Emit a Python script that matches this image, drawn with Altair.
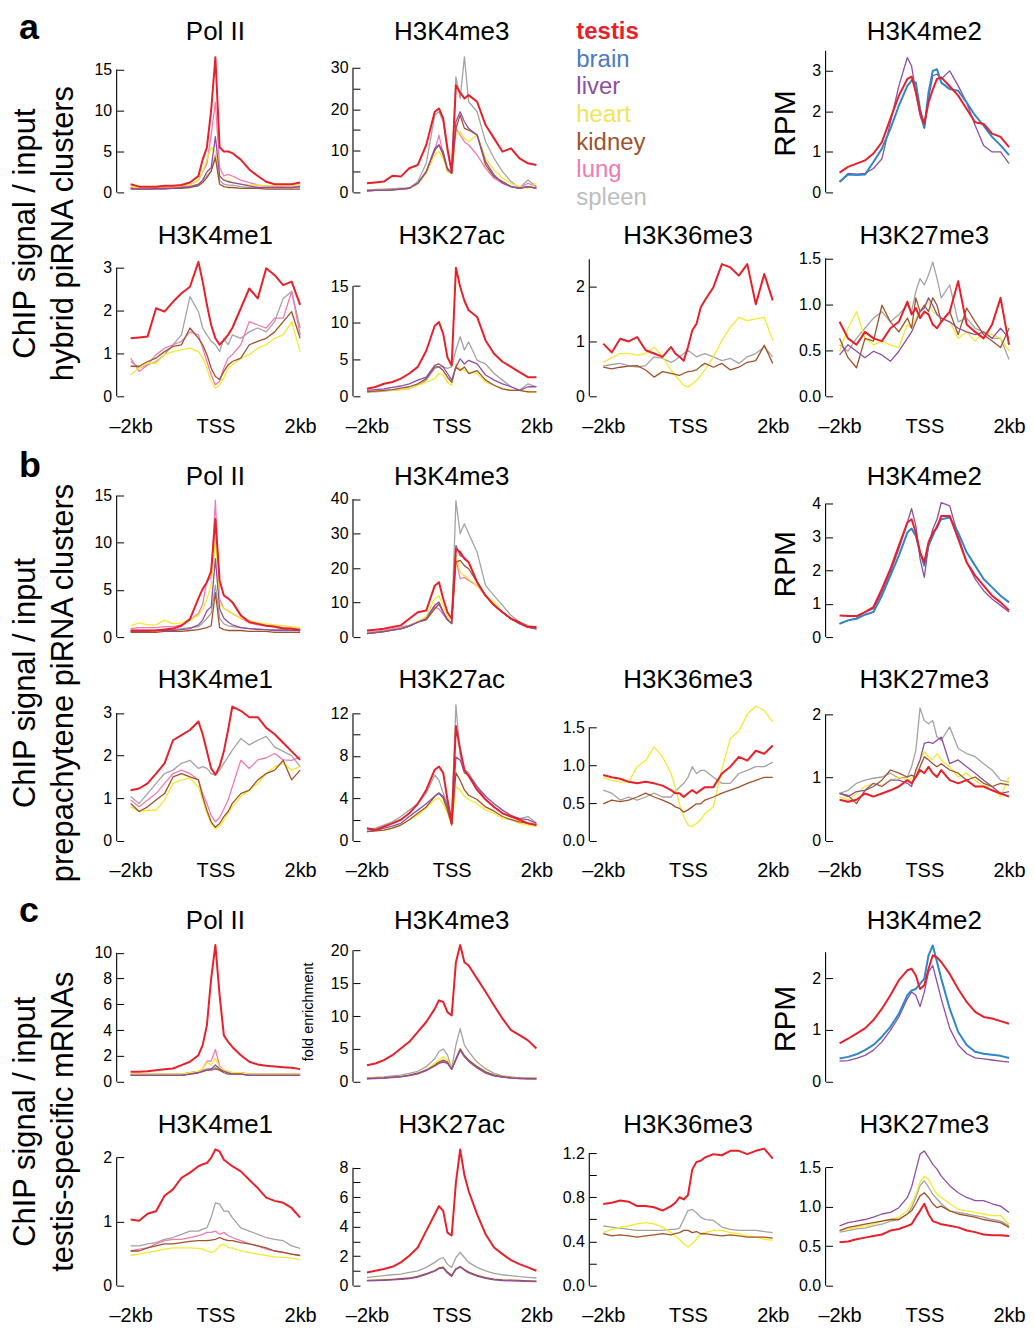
import altair as alt
import pandas as pd

FONT = "Liberation Sans"

# ---------------- shared categories ----------------
POS = [-2000, -1800, -1600, -1400, -1200, -1000, -800, -600, -400, -300, -200, -100,
       0, 100, 200, 300, 400, 600, 800, 1000, 1200, 1400, 1600, 1800, 2000]
X_TICKS = [-2000, 0, 2000]
X_LABELS = ["–2kb", "TSS", "2kb"]
TISSUES = ["testis", "brain", "liver", "heart", "kidney", "lung", "spleen"]
LINE_COLORS = ["#e8202a", "#2f86c9", "#8e4ea4", "#f2ea2e", "#a0522a", "#f27ab2", "#a3a3a3"]
TEXT_COLORS = ["#e8202a", "#4a7cc2", "#8e4ea4", "#eee65a", "#a0522a", "#f27ab2", "#bdbdbd"]
LINE_WIDTHS = [2.0, 2.0, 1.3, 1.3, 1.3, 1.3, 1.3]
DRAW_ORDER = ["spleen", "lung", "heart", "kidney", "liver", "brain", "testis"]
SECTION_LETTERS = ["a", "b", "c"]
SECTION_LINE1 = "ChIP signal / input"
SECTION_LINE2 = ["hybrid piRNA clusters", "prepachytene piRNA clusters", "testis-specific mRNAs"]

# ---------------- section a ----------------
a_pol2_testis = [1.0,0.7,0.7,0.7,0.8, 0.8,0.9,1.2,2.0,4.0, 5.5,10.0,16.5,5.5,5.0, 5.0,4.8,4.0,2.8,2.0, 1.3,1.0,1.0,1.0,1.2]
a_pol2_lung = [0.6,0.5,0.5,0.5,0.6, 0.6,0.7,0.9,1.5,2.5, 3.5,7.0,11.0,3.0,2.0, 2.2,2.0,1.5,1.2,0.9, 0.8,0.7,0.7,0.6,0.8]
a_pol2_heart = [0.7,0.6,0.6,0.6,0.7, 0.7,0.8,0.9,1.5,2.5, 4.0,5.5,5.0,2.0,1.5, 1.5,1.2,1.0,0.9,0.9, 0.8,0.8,0.8,0.8,1.0]
a_pol2_liver = [0.5,0.4,0.4,0.4,0.4, 0.5,0.6,0.7,1.0,1.5, 2.5,3.0,6.8,2.0,1.5, 1.3,1.2,1.0,0.8,0.6, 0.6,0.6,0.6,0.6,0.7]
a_pol2_spleen = [0.5,0.5,0.5,0.5,0.5, 0.5,0.6,0.6,0.9,1.3, 2.0,2.6,4.6,1.5,1.0, 0.9,0.9,0.7,0.6,0.6, 0.6,0.6,0.6,0.6,0.6]
a_pol2_kidney = [0.4,0.4,0.4,0.5,0.5, 0.5,0.5,0.6,0.8,1.2, 1.8,2.6,4.2,1.0,0.7, 0.6,0.6,0.5,0.5,0.5, 0.4,0.4,0.4,0.4,0.4]

a_k4me3_testis = [2.2,2.4,2.6,4.0,3.8, 5.8,6.6,11.4,19.4,20.2, 17.8,10.6,5.0,25.8,24.0, 22.6,23.4,21.8,16.2,13.0, 9.8,10.6,8.2,7.0,6.6]
a_k4me3_spleen = [0.6,0.7,0.8,0.9,1.0, 1.0,2.6,7.0,18.6,19.4, 17.0,9.8,4.6,27.8,22.6, 32.6,21.8,19.4,12.2,8.2, 5.0,2.6,1.0,3.0,1.4]
a_k4me3_liver = [0.4,0.5,0.5,0.6,0.8, 1.0,2.2,5.0,10.6,11.4, 9.8,5.8,4.6,17.0,19.4, 17.0,15.4,13.8,7.4,4.2, 2.2,1.4,1.0,1.4,1.0]
a_k4me3_kidney = [0.4,0.5,0.5,0.6,0.8, 1.0,2.2,5.0,10.2,11.4, 9.0,5.5,4.6,15.4,18.6, 15.4,15.0,13.8,6.6,3.8, 2.6,1.4,1.0,1.4,1.0]
a_k4me3_heart = [0.4,0.5,0.5,0.6,0.8, 1.0,2.0,4.5,9.0,9.8, 8.2,5.0,4.6,13.8,14.6, 13.0,12.2,13.8,8.2,5.4, 3.4,2.2,1.4,1.0,2.2]
a_k4me3_lung = [0.4,0.5,0.5,0.6,0.8, 1.0,2.2,5.0,10.0,13.8, 9.0,5.0,4.6,15.4,13.8, 12.2,11.4,9.0,5.8,3.4, 2.2,1.4,1.0,2.2,1.4]

a_k4me2_testis = [0.49,0.63,0.71,0.79,0.96, 1.24,1.82,2.39,2.80,2.86, 2.47,1.98,1.70,2.22,2.54, 2.80,2.84,2.62,2.39,2.06, 1.73,1.69,1.45,1.37,1.12]
a_k4me2_brain = [0.26,0.44,0.43,0.44,0.75, 1.08,1.57,2.14,2.63,2.76, 2.71,2.06,1.60,2.47,3.00, 3.04,2.71,2.55,2.51,2.22, 1.90,1.65,1.37,1.16,0.92]
a_k4me2_liver = [0.26,0.47,0.45,0.47,0.59, 0.83,1.73,2.63,3.33,3.12, 2.47,1.90,1.58,2.30,2.88, 2.92,2.80,3.00,2.63,2.22, 1.65,1.16,1.00,1.00,0.71]

a_k4me1_testis = [1.35,1.37,1.39,2.05,1.97, 2.20,2.40,2.55,3.13,2.67, 2.13,1.66,1.35,1.20,1.31, 1.43,1.59,2.05,2.51,2.28, 2.98,2.82,2.59,2.67,2.13]
a_k4me1_spleen = [0.81,0.66,0.73,0.81,0.97, 1.20,1.43,2.32,1.97,1.59, 1.43,1.28,1.20,1.04,1.35, 1.20,1.43,1.35,1.50,1.59, 1.50,1.74,2.28,2.44,1.59]
a_k4me1_lung = [0.89,0.58,0.73,0.97,1.12, 1.20,1.28,1.50,1.43,1.12, 0.81,0.50,0.27,0.35,0.66, 0.89,0.97,1.20,1.74,1.66, 1.59,1.82,1.82,2.44,1.43]
a_k4me1_kidney = [0.70,0.70,0.81,0.89,1.04, 1.16,1.20,1.59,1.35,1.20, 0.97,0.66,0.46,0.39,0.58, 0.73,0.81,0.89,1.20,1.28, 1.35,1.50,1.74,1.97,1.35]
a_k4me1_heart = [0.50,0.66,0.77,0.77,0.97, 1.04,1.08,1.12,1.04,0.89, 0.66,0.35,0.19,0.27,0.43, 0.66,0.73,0.89,0.97,1.12, 1.20,1.35,1.43,1.74,1.04]

a_k27ac_testis = [1.04,1.27,1.70,1.95,2.40, 3.10,4.00,6.20,9.60,10.10, 8.50,5.30,4.20,17.5,14.9, 13.0,11.7,10.8,7.6,5.8, 4.7,4.0,3.3,2.6,2.6]
a_k27ac_spleen = [0.6,0.6,0.7,0.8,0.9, 1.0,1.5,2.2,3.8,4.0, 4.0,3.8,4.0,6.3,8.1, 6.3,7.4,4.9,4.4,3.1, 2.2,1.3,0.8,1.7,1.3]
a_k27ac_liver = [0.8,0.9,1.0,1.2,1.4, 1.7,2.2,2.6,4.2,4.4, 4.0,3.1,2.2,4.0,5.1, 4.4,4.9,4.4,2.9,2.2, 1.7,1.3,0.8,1.3,1.3]
a_k27ac_kidney = [0.6,0.7,0.8,0.9,1.1, 1.3,1.7,2.4,4.0,4.0, 3.5,2.6,1.9,4.0,3.5, 4.0,3.1,3.5,2.2,1.5, 1.0,0.8,0.8,0.6,0.6]
a_k27ac_heart = [0.6,0.7,0.8,0.8,0.9, 1.0,1.5,1.9,2.4,3.1, 2.9,1.9,1.5,4.4,3.8, 3.5,3.3,3.1,1.9,1.5, 1.0,0.8,0.8,0.6,0.6]

a_k36me3_testis = [0.96,0.80,1.05,1.00,1.08, 0.84,0.78,0.72,0.90,0.78, 0.72,0.65,0.90,1.20,1.32, 1.62,1.75,1.99,2.41,2.35, 2.20,2.41,1.68,2.23,1.75]
a_k36me3_heart = [0.62,0.70,0.78,0.78,0.75, 0.78,0.90,0.72,0.48,0.38, 0.29,0.20,0.17,0.23,0.29, 0.38,0.48,0.72,1.02,1.26, 1.44,1.38,1.41,1.44,1.02]
a_k36me3_spleen = [0.55,0.58,0.60,0.56,0.53, 0.56,0.72,0.69,0.62,0.66, 0.72,0.78,0.84,0.78,0.72, 0.75,0.78,0.72,0.65,0.69, 0.60,0.72,0.78,0.90,0.72]
a_k36me3_kidney = [0.53,0.50,0.53,0.55,0.56, 0.48,0.35,0.45,0.42,0.40, 0.38,0.42,0.45,0.46,0.48, 0.55,0.60,0.53,0.60,0.48, 0.53,0.62,0.65,0.93,0.60]

a_k27me3_testis = [0.81,0.63,0.56,0.70,0.63, 0.60,0.74,0.81,1.03,0.89, 0.96,0.85,0.92,0.89,0.78, 0.74,0.81,0.92,1.25,0.78, 0.70,0.63,0.78,1.07,0.56]
a_k27me3_spleen = [0.56,0.49,0.63,0.74,0.85, 0.92,0.81,0.89,0.99,0.92, 1.14,1.28,1.21,1.32,1.46, 1.28,1.07,1.21,0.81,0.85, 0.74,0.70,0.63,0.63,0.40]
a_k27me3_kidney = [0.63,0.42,0.31,0.63,0.60, 0.99,0.81,0.70,0.85,0.74, 1.07,0.92,0.99,0.92,1.07, 0.99,0.81,0.92,0.67,0.96, 0.81,0.67,0.60,0.53,0.74]
a_k27me3_liver = [0.45,0.56,0.49,0.42,0.49, 0.45,0.38,0.49,0.63,0.70, 0.81,0.92,0.96,1.07,0.99, 0.89,0.85,0.81,0.74,0.70, 0.67,0.70,0.63,0.74,0.63]
a_k27me3_heart = [0.49,0.74,0.92,0.63,0.56, 0.60,0.56,0.53,0.78,0.74, 0.85,0.92,0.99,1.03,0.92, 0.89,0.85,0.81,0.63,0.70, 0.60,0.70,0.67,0.63,0.49]

# ---------------- section b ----------------
b_pol2_testis = [0.7,0.7,0.7,0.7,0.8, 0.9,1.2,1.9,4.1,5.1, 5.8,7.0,12.5,6.0,4.4, 4.1,3.7,2.3,1.6,1.4, 1.2,1.1,0.9,0.9,0.7]
b_pol2_lung = [0.9,1.0,1.0,1.0,1.1, 1.1,1.3,1.8,2.5,3.5, 6.0,6.3,14.5,4.0,3.0, 2.8,2.5,2.0,1.5,1.3, 1.2,1.2,1.0,0.9,0.9]
b_pol2_heart = [1.2,1.5,1.3,1.3,1.8, 1.4,1.5,1.8,2.3,3.0, 4.0,5.5,10.5,3.5,3.0, 2.8,2.5,2.0,1.8,1.5, 1.4,1.3,1.2,1.1,1.0]
b_pol2_liver = [0.6,0.6,0.6,0.7,0.7, 0.7,0.8,0.9,1.3,1.8, 2.8,3.2,8.3,3.0,2.0, 1.6,1.3,1.0,0.9,0.8, 0.8,0.7,0.7,0.7,0.7]
b_pol2_spleen = [0.7,0.7,0.7,0.7,0.8, 0.8,0.9,1.0,1.1,1.5, 2.0,2.5,5.5,2.0,1.4, 1.2,1.1,1.0,0.9,0.9, 0.8,0.8,0.8,0.8,0.8]
b_pol2_kidney = [0.5,0.5,0.5,0.5,0.6, 0.6,0.6,0.7,0.8,0.9, 1.0,1.2,4.7,1.0,0.8, 0.7,0.7,0.7,0.6,0.6, 0.6,0.5,0.5,0.5,0.5]

b_k4me3_spleen = [1.4,1.6,1.9,2.4,2.9, 3.4,4.3,5.8,9.2,10.1, 7.2,5.3,4.3,39.5,30.0, 32.8,30.0,24.6,14.9,12.0, 9.2,6.3,4.3,3.4,2.9]
b_k4me3_testis = [1.9,2.1,2.4,2.9,3.4, 5.3,7.2,7.7,14.9,15.9, 11.1,7.2,5.3,25.5,24.6, 22.7,21.7,15.9,12.0,9.2, 7.2,5.3,4.3,2.9,2.9]
b_k4me3_liver = [1.0,1.3,1.6,2.0,2.4, 3.2,4.3,5.3,9.2,10.1, 7.2,5.0,3.9,26.5,23.6, 23.1,21.7,15.9,12.0,9.2, 7.2,5.3,3.9,2.9,2.4]
b_k4me3_heart = [1.0,1.3,1.6,2.0,2.4, 3.2,4.5,6.0,11.1,12.0, 9.2,6.0,3.9,23.6,18.8, 17.8,16.9,14.9,12.0,10.1, 7.2,5.3,3.9,2.9,2.4]
b_k4me3_kidney = [1.0,1.3,1.6,2.0,2.4, 3.2,4.3,5.0,8.2,9.6, 7.2,5.0,3.9,21.7,22.2, 20.7,19.8,15.9,12.0,9.2, 7.2,5.3,3.9,2.9,2.4]
b_k4me3_lung = [1.2,1.5,1.8,2.2,2.6, 3.4,4.5,5.5,8.7,8.2, 6.5,5.0,4.3,22.7,16.9, 17.3,16.4,14.9,12.0,9.2, 7.2,5.3,3.9,2.9,2.4]

b_k4me2_testis = [0.65,0.63,0.63,0.75,0.90, 1.44,2.04,2.74,3.43,3.53, 3.13,2.54,2.24,2.84,3.13, 3.28,3.63,3.63,2.94,2.24, 1.84,1.54,1.24,1.04,0.80]
b_k4me2_brain = [0.40,0.50,0.55,0.67,0.75, 1.24,1.84,2.44,3.13,3.25, 3.03,2.54,2.14,2.74,3.03, 3.33,3.53,3.58,3.13,2.54, 2.14,1.74,1.49,1.24,1.04]
b_k4me2_liver = [0.40,0.50,0.57,0.75,0.85, 1.34,1.94,2.64,3.43,3.85, 3.33,2.34,1.79,2.74,3.23, 3.53,4.03,3.93,3.03,2.24, 1.74,1.39,1.14,0.95,0.75]

b_k4me1_testis = [1.19,1.23,1.35,1.58,1.82, 2.36,2.48,2.60,2.80,2.50, 2.10,1.70,1.55,1.75,2.10, 2.60,3.15,3.05,2.90,2.90, 2.65,2.50,2.30,2.10,1.90]
b_k4me1_spleen = [1.04,0.88,1.11,1.35,1.58, 1.66,1.82,1.89,1.70,1.74, 1.70,1.58,1.55,1.66,1.82, 1.97,2.13,2.40,2.25,2.36, 2.45,2.20,2.10,2.00,1.74]
b_k4me1_lung = [0.96,0.80,0.96,1.11,1.35, 1.58,1.66,1.58,1.43,1.11, 0.88,0.60,0.45,0.55,0.75, 0.96,1.27,1.89,1.70,1.90, 1.95,2.05,1.90,1.89,1.97]
b_k4me1_kidney = [0.88,0.69,0.80,0.96,1.11, 1.50,1.58,1.50,1.43,1.04, 0.72,0.45,0.32,0.41,0.57, 0.69,0.88,1.11,1.19,1.43, 1.58,1.66,1.89,1.43,1.66]
b_k4me1_heart = [0.80,0.69,0.72,0.72,0.96, 1.35,1.43,1.47,1.27,0.96, 0.65,0.41,0.28,0.34,0.49, 0.65,0.80,1.04,1.19,1.35, 1.58,1.74,1.82,1.66,1.74]

b_k27ac_spleen = [1.03,1.20,1.50,1.80,2.30, 2.90,3.50,4.50,6.20,5.70, 4.50,3.50,2.30,12.8,8.0, 6.7,6.4,5.1,3.9,3.2, 2.6,2.3,2.1,2.3,1.7]
b_k27ac_testis = [1.20,1.03,1.35,1.66,2.00, 2.60,3.50,4.80,6.70,7.00, 6.40,3.90,1.66,10.8,8.6, 6.7,6.1,4.8,3.9,3.2, 2.6,2.3,2.0,1.66,1.5]
b_k27ac_liver = [0.88,1.00,1.20,1.40,1.66, 2.30,2.90,3.50,4.20,4.50, 4.20,3.20,1.66,7.9,7.6, 6.4,6.2,5.1,4.2,3.5, 2.9,2.4,2.1,2.0,1.66]
b_k27ac_kidney = [0.88,0.95,1.03,1.20,1.50, 2.00,2.60,3.20,4.20,4.50, 4.00,2.90,1.50,6.4,5.7, 4.8,4.3,3.9,3.2,2.8, 2.3,2.0,1.8,1.66,1.5]
b_k27ac_heart = [0.88,0.95,1.03,1.20,1.50, 2.00,2.40,3.10,3.90,4.00, 3.50,2.60,1.50,5.1,4.8, 4.2,3.9,3.5,2.9,2.6, 2.1,2.0,1.66,1.5,1.35]

b_k36me3_heart = [0.84,0.80,0.78,0.78,0.98, 1.06,1.24,1.11,0.89,0.71, 0.49,0.32,0.21,0.19,0.23, 0.28,0.36,0.45,0.95,1.35, 1.45,1.67,1.78,1.72,1.57]
b_k36me3_testis = [0.87,0.84,0.82,0.78,0.76, 0.78,0.76,0.73,0.67,0.63, 0.63,0.58,0.63,0.67,0.63, 0.67,0.71,0.71,0.89,0.98, 1.11,1.06,1.19,1.15,1.26]
b_k36me3_spleen = [0.67,0.63,0.54,0.58,0.54, 0.58,0.63,0.58,0.58,0.65, 0.71,0.76,0.84,0.98,0.89, 0.93,0.93,0.84,0.76,0.76, 0.89,0.93,0.98,0.98,1.04]
b_k36me3_kidney = [0.49,0.54,0.52,0.54,0.58, 0.63,0.58,0.54,0.49,0.45, 0.43,0.38,0.41,0.45,0.49, 0.49,0.54,0.58,0.63,0.67, 0.71,0.76,0.80,0.84,0.84]

b_k27me3_spleen = [0.75,0.80,0.91,0.96,0.99, 1.01,1.07,0.99,1.01,1.17, 1.43,2.10,1.90,1.85,1.90, 1.64,1.59,1.80,1.46,1.38, 1.33,1.22,1.12,0.96,0.93]
b_k27me3_liver = [0.75,0.70,0.78,0.80,0.91, 0.86,0.96,0.96,0.91,0.86, 1.12,1.28,1.54,1.56,1.54, 1.59,1.64,1.22,1.28,1.17, 1.07,0.96,0.86,0.75,0.78]
b_k27me3_heart = [0.70,0.65,0.75,0.86,0.91, 0.88,0.96,1.01,0.96,0.99, 1.07,1.28,1.41,1.33,1.28, 1.38,1.28,1.17,1.01,1.07, 0.96,0.86,0.86,0.70,1.01]
b_k27me3_kidney = [0.75,0.72,0.59,0.80,0.86, 0.96,1.12,1.07,1.01,1.04, 1.01,1.17,1.33,1.28,1.22, 1.17,1.22,1.12,1.07,0.96, 1.01,0.91,0.86,0.91,0.88]
b_k27me3_testis = [0.65,0.62,0.65,0.75,0.70, 0.75,0.80,0.86,0.96,0.91, 1.01,1.12,1.07,1.17,1.07, 1.01,1.12,0.96,0.91,0.96, 0.86,0.86,0.80,0.75,0.70]

# ---------------- section c ----------------
c_pol2_testis = [0.77,0.78,0.82,0.90,0.98, 1.03,1.29,1.55,2.06,2.84, 4.38,8.0,10.6,6.7,3.6, 3.1,2.7,2.06,1.55,1.34, 1.24,1.19,1.13,1.08,0.98]
c_pol2_lung = [0.6,0.6,0.6,0.6,0.6, 0.6,0.6,0.7,0.8,1.0, 1.6,1.6,2.5,1.2,0.9, 0.8,0.7,0.7,0.6,0.6, 0.6,0.6,0.6,0.6,0.6]
c_pol2_heart = [0.6,0.6,0.6,0.6,0.6, 0.6,0.6,0.7,0.8,1.0, 1.5,1.3,1.8,1.1,0.9, 0.8,0.7,0.7,0.6,0.6, 0.6,0.6,0.6,0.6,0.6]
c_pol2_liver = [0.5,0.5,0.5,0.5,0.5, 0.5,0.5,0.6,0.7,0.8, 0.9,1.0,1.3,1.0,0.8, 0.7,0.6,0.6,0.5,0.5, 0.5,0.5,0.5,0.5,0.5]
c_pol2_spleen = [0.6,0.6,0.6,0.6,0.6, 0.6,0.6,0.7,0.8,0.9, 1.0,1.0,1.1,0.9,0.8, 0.7,0.7,0.7,0.6,0.6, 0.6,0.6,0.6,0.6,0.6]
c_pol2_kidney = [0.5,0.5,0.5,0.5,0.5, 0.5,0.5,0.6,0.7,0.8, 0.9,0.9,1.0,0.9,0.7, 0.6,0.6,0.6,0.5,0.5, 0.5,0.5,0.5,0.5,0.5]

c_k4me3_testis = [2.53,2.78,3.29,4.05,5.06, 6.08,7.6,9.1,11.1,12.4, 12.15,10.6,10.1,18.2,20.8, 18.2,17.7,15.7,13.7,11.6, 9.6,7.85,7.1,6.3,5.06]
c_k4me3_spleen = [0.6,0.68,0.76,0.88,1.0, 1.27,1.6,2.3,3.5,4.6, 5.0,4.1,2.0,5.6,8.1, 5.6,4.6,3.0,2.0,1.27, 0.9,0.76,0.6,0.55,0.5]
c_k4me3_heart = [0.5,0.55,0.6,0.7,0.8, 1.0,1.3,1.8,2.8,3.3, 3.8,3.3,2.0,3.5,5.0, 4.0,3.3,2.3,1.5,1.0, 0.8,0.6,0.55,0.5,0.5]
c_k4me3_kidney = [0.5,0.55,0.6,0.7,0.8, 1.0,1.3,1.8,2.5,3.0, 3.3,3.0,1.9,3.5,5.0, 4.0,3.3,2.3,1.5,1.0, 0.8,0.6,0.55,0.5,0.5]
c_k4me3_liver = [0.45,0.5,0.55,0.65,0.75, 0.95,1.2,1.7,2.4,2.8, 3.0,2.8,1.9,3.3,4.8, 3.8,3.1,2.1,1.3,0.9, 0.7,0.55,0.5,0.45,0.45]
c_k4me3_lung = [0.5,0.55,0.6,0.7,0.8, 1.0,1.3,1.8,2.5,2.9, 3.1,2.9,1.9,3.4,4.9, 3.9,3.2,2.2,1.4,0.9, 0.7,0.6,0.5,0.45,0.45]

c_k4me2_testis = [0.74,0.83,0.93,1.03,1.19, 1.41,1.67,1.96,2.15,2.18, 2.05,1.79,1.86,2.18,2.44, 2.40,2.31,2.08,1.79,1.54, 1.35,1.25,1.22,1.17,1.12]
c_k4me2_brain = [0.45,0.48,0.53,0.61,0.71, 0.87,1.06,1.31,1.67,1.76, 1.79,1.89,1.99,2.44,2.63, 2.31,1.99,1.41,0.96,0.71, 0.58,0.54,0.52,0.50,0.46]
c_k4me2_liver = [0.40,0.41,0.45,0.51,0.61, 0.77,0.99,1.25,1.60,1.73, 1.67,1.45,1.73,2.12,2.24, 1.92,1.60,1.03,0.71,0.54, 0.46,0.44,0.42,0.40,0.38]

c_k4me1_testis = [1.03,1.01,1.12,1.16,1.40, 1.50,1.68,1.76,1.86,1.89, 1.91,1.99,2.12,2.09,1.96, 1.91,1.86,1.78,1.65,1.52, 1.37,1.32,1.29,1.21,1.06]
c_k4me1_spleen = [0.62,0.62,0.65,0.67,0.72, 0.75,0.80,0.85,0.85,0.88, 0.90,1.06,1.29,1.27,1.16, 1.16,1.06,0.90,0.85,0.80, 0.75,0.72,0.70,0.62,0.58]
c_k4me1_lung = [0.54,0.57,0.59,0.65,0.70, 0.72,0.72,0.75,0.78,0.80, 0.83,0.83,0.85,0.80,0.83, 0.78,0.75,0.70,0.65,0.62, 0.57,0.54,0.52,0.49,0.47]
c_k4me1_kidney = [0.54,0.54,0.59,0.62,0.65, 0.65,0.67,0.69,0.70,0.70, 0.70,0.71,0.72,0.75,0.72, 0.70,0.70,0.67,0.65,0.62, 0.59,0.54,0.52,0.49,0.47]
c_k4me1_heart = [0.47,0.49,0.52,0.54,0.57, 0.59,0.59,0.59,0.58,0.57, 0.54,0.52,0.54,0.62,0.65, 0.59,0.59,0.54,0.52,0.49, 0.47,0.45,0.44,0.43,0.41]

c_k27ac_testis = [0.90,1.01,1.13,1.28,1.58, 2.03,2.59,3.72,4.84,5.40, 5.07,3.60,3.40,7.00,9.23, 7.50,6.42,4.84,3.49,2.59, 2.14,1.73,1.46,1.24,1.01]
c_k27ac_spleen = [0.56,0.62,0.68,0.74,0.79, 0.90,1.01,1.24,1.58,1.80, 1.91,1.46,1.24,1.91,2.25, 1.91,1.58,1.24,1.01,0.83, 0.74,0.68,0.61,0.56,0.52]
c_k27ac_kidney = [0.36,0.38,0.40,0.43,0.47, 0.52,0.63,0.81,1.03,1.20, 1.25,0.92,0.70,1.15,1.30, 1.10,0.92,0.70,0.54,0.45, 0.40,0.38,0.36,0.33,0.31]
c_k27ac_heart = [0.34,0.36,0.38,0.41,0.45, 0.50,0.61,0.79,1.01,1.19, 1.24,0.90,0.68,1.13,1.28, 1.08,0.90,0.68,0.52,0.43, 0.38,0.36,0.34,0.31,0.29]
c_k27ac_liver = [0.32,0.34,0.36,0.39,0.43, 0.48,0.58,0.76,0.98,1.15, 1.20,0.86,0.62,1.10,1.26, 1.05,0.86,0.64,0.49,0.40, 0.35,0.33,0.31,0.29,0.27]

c_k36me3_testis = [0.74,0.75,0.77,0.76,0.72, 0.72,0.71,0.68,0.72,0.75, 0.80,0.78,0.82,1.05,1.12, 1.13,1.16,1.19,1.18,1.22, 1.22,1.19,1.22,1.24,1.15]
c_k36me3_spleen = [0.54,0.53,0.52,0.51,0.50, 0.50,0.50,0.50,0.51,0.51, 0.52,0.60,0.68,0.69,0.66, 0.62,0.60,0.59,0.53,0.51, 0.50,0.50,0.50,0.49,0.48]
c_k36me3_heart = [0.48,0.51,0.53,0.54,0.56, 0.57,0.56,0.53,0.48,0.45, 0.42,0.38,0.35,0.38,0.42, 0.47,0.48,0.50,0.50,0.48, 0.47,0.45,0.44,0.42,0.41]
c_k36me3_kidney = [0.47,0.45,0.46,0.45,0.44, 0.45,0.46,0.47,0.46,0.47, 0.48,0.50,0.50,0.48,0.49, 0.47,0.47,0.46,0.45,0.46, 0.45,0.44,0.44,0.44,0.43]

c_k27me3_liver = [0.76,0.80,0.82,0.84,0.87, 0.91,0.93,0.99,1.12,1.25, 1.46,1.67,1.71,1.63,1.54, 1.48,1.39,1.27,1.18,1.12, 1.08,1.08,1.04,1.01,0.93]
c_k27me3_heart = [0.70,0.72,0.74,0.76,0.78, 0.82,0.84,0.87,0.95,1.04, 1.16,1.31,1.39,1.35,1.25, 1.16,1.12,1.04,0.97,0.95, 0.93,0.91,0.89,0.89,0.78]
c_k27me3_spleen = [0.68,0.70,0.72,0.73,0.76, 0.78,0.82,0.84,0.91,0.99, 1.12,1.27,1.33,1.25,1.16, 1.10,1.04,0.95,0.93,0.91, 0.89,0.87,0.84,0.82,0.76]
c_k27me3_kidney = [0.70,0.74,0.76,0.78,0.80, 0.82,0.84,0.84,0.91,0.95, 1.04,1.14,1.18,1.12,1.04, 0.99,1.01,0.95,0.91,0.89, 0.87,0.84,0.82,0.80,0.74]
c_k27me3_testis = [0.55,0.56,0.59,0.61,0.63, 0.65,0.70,0.72,0.76,0.78, 0.87,0.95,1.04,0.91,0.82, 0.80,0.78,0.76,0.74,0.70, 0.68,0.65,0.64,0.64,0.63]

# ---------------- layout constants ----------------
PW, PH = 170, 143
LABEL_W = 56


def series(prefix):
    g = globals()
    return {t: g[f"{prefix}_{t}"] for t in TISSUES if f"{prefix}_{t}" in g}


def txt(text, x, y, size, color="black", weight="normal", angle=0, align="center"):
    return alt.Chart(pd.DataFrame({"t": [text]})).mark_text(
        font=FONT, fontSize=size, fontWeight=weight, color=color, angle=angle,
        align=align, baseline="alphabetic"
    ).encode(text="t:N", x=alt.value(x), y=alt.value(y))


def panel(title, prefix, ymax, ticks, labels, fmt, show_x, extras=()):
    ya = alt.Axis(values=ticks, format=fmt,
                  labelExpr=f"indexof({labels}, datum.value) >= 0 ? datum.label : ''",
                  domain=False, grid=False, ticks=True, tickSize=7, tickColor="black",
                  tickWidth=1, offset=7, labelPadding=5, labelFontSize=16, labelFont=FONT,
                  labelColor="black", labelOverlap=False, title=None)
    if show_x:
        expr = (f"datum.value == 0 ? '{X_LABELS[1]}' : "
                f"(datum.value < 0 ? '{X_LABELS[0]}' : '{X_LABELS[2]}')")
        xa = alt.Axis(values=X_TICKS, labelExpr=expr, domain=False, ticks=False, tickSize=0,
                      grid=False, labelPadding=20, labelFontSize=20, labelFont=FONT,
                      labelColor="black", labelFlush=False, labelOverlap=False, title=None)
    else:
        xa = None
    xs = alt.Scale(domain=[-2000, 2000], nice=False, zero=False)
    ys = alt.Scale(domain=[0, ymax], nice=False, zero=True)
    layers = [
        alt.Chart(pd.DataFrame({"lo": [0], "hi": [ticks[-1]]})).mark_rule(
            color="black", strokeWidth=1.1
        ).encode(x=alt.value(-14), y=alt.Y("lo:Q", scale=ys, axis=ya), y2="hi:Q")
    ]
    data = series(prefix)
    for t in DRAW_ORDER:
        if t in data:
            i = TISSUES.index(t)
            df = pd.DataFrame({"pos": POS, "val": data[t]})
            layers.append(
                alt.Chart(df).mark_line(color=LINE_COLORS[i], strokeWidth=LINE_WIDTHS[i],
                                        strokeJoin="round").encode(
                    x=alt.X("pos:Q", scale=xs, axis=xa),
                    y=alt.Y("val:Q", scale=ys, axis=ya))
            )
    layers.append(txt(title, PW / 2, -10, 26))
    layers.extend(extras)
    return alt.layer(*layers).properties(width=PW, height=PH)


def blank(w, h):
    return alt.Chart(pd.DataFrame({"t": [""]})).mark_text().encode(text="t:N").properties(width=w, height=h)


def label_cell(k, letter_y, cy):
    return alt.layer(
        txt(SECTION_LETTERS[k], 11, letter_y, 36, weight="bold", align="left"),
        txt(SECTION_LINE1, 27.5, cy, 31, angle=270),
        txt(SECTION_LINE2[k], 64.8, cy, 31, angle=270),
    ).properties(width=LABEL_W, height=PH)


legend = alt.layer(*[
    txt(name, -27, -11 + i * 27.8, 24, TEXT_COLORS[i], "bold" if i == 0 else "normal", align="left")
    for i, name in enumerate(TISSUES)
]).properties(width=PW, height=PH)

T5 = [0, 5, 10, 15]
H05_3 = [0, 0.5, 1, 1.5, 2, 2.5, 3]

cells = [
    # a, row 1
    label_cell(0, -11, 184.3),
    panel("Pol II", "a_pol2", 17.4, T5, T5, "d", False),
    panel("H3K4me3", "a_k4me3", 34.3, [0, 5, 10, 15, 20, 25, 30], [0, 10, 20, 30], "d", False),
    legend,
    panel("H3K4me2", "a_k4me2", 3.52, [0, 0.5, 1, 1.5, 2, 2.5, 3, 3.5], [0, 1, 2, 3], "d", False,
          [txt("RPM", -45, 74, 30, angle=270)]),
    # a, row 2
    blank(LABEL_W, 180),
    panel("H3K4me1", "a_k4me1", 3.32, H05_3, [0, 1, 2, 3], "d", True),
    panel("H3K27ac", "a_k27ac", 19.4, T5, T5, "d", True),
    panel("H3K36me3", "a_k36me3", 2.6, [0, 0.5, 1, 1.5, 2, 2.5], [0, 1, 2], "d", True),
    panel("H3K27me3", "a_k27me3", 1.55, [0, 0.5, 1, 1.5], [0, 0.5, 1, 1.5], ".1f", True),
    # b, row 1
    label_cell(1, -17.7, 189),
    panel("Pol II", "b_pol2", 15.1, T5, T5, "d", False),
    panel("H3K4me3", "b_k4me3", 41.3, [0, 10, 20, 30, 40], [0, 10, 20, 30, 40], "d", False),
    blank(PW, PH),
    panel("H3K4me2", "b_k4me2", 4.27, [0, 1, 2, 3, 4], [0, 1, 2, 3, 4], "d", False,
          [txt("RPM", -45, 70, 30, angle=270)]),
    # b, row 2
    blank(LABEL_W, 180),
    panel("H3K4me1", "b_k4me1", 3.34, H05_3, [0, 1, 2, 3], "d", True),
    panel("H3K27ac", "b_k27ac", 13.4, [0, 2, 4, 6, 8, 10, 12], [0, 4, 8, 12], "d", True),
    panel("H3K36me3", "b_k36me3", 1.88, [0, 0.5, 1, 1.5], [0, 0.5, 1, 1.5], ".1f", True),
    panel("H3K27me3", "b_k27me3", 2.25, [0, 0.5, 1, 1.5, 2], [0, 1, 2], "d", True),
    # c, row 1
    label_cell(2, -17.7, 183),
    panel("Pol II", "c_pol2", 11.05, [0, 2, 4, 6, 8, 10], [0, 2, 4, 6, 8, 10], "d", False),
    panel("H3K4me3", "c_k4me3", 21.7, [0, 5, 10, 15, 20], [0, 5, 10, 15, 20], "d", False,
          [txt("fold enrichment", -54, 72.8, 14.5, angle=270)]),
    blank(PW, PH),
    panel("H3K4me2", "c_k4me2", 2.75, [0, 0.5, 1, 1.5, 2, 2.5], [0, 1, 2], "d", False,
          [txt("RPM", -45, 80, 30, angle=270)]),
    # c, row 2
    blank(LABEL_W, PH),
    panel("H3K4me1", "c_k4me1", 2.22, [0, 0.5, 1, 1.5, 2], [0, 1, 2], "d", True),
    panel("H3K27ac", "c_k27ac", 9.67, [0, 1, 2, 3, 4, 5, 6, 7, 8], [0, 2, 4, 6, 8], "d", True),
    panel("H3K36me3", "c_k36me3", 1.29, [0, 0.2, 0.4, 0.6, 0.8, 1.0, 1.2], [0, 0.4, 0.8, 1.2], ".1f", True),
    panel("H3K27me3", "c_k27me3", 1.81, [0, 0.5, 1, 1.5], [0, 0.5, 1, 1.5], ".1f", True),
]

chart = alt.concat(
    *cells, columns=5, spacing={"row": 61.5, "column": 67}, bounds="flush", align="each",
    padding=0
).configure(font=FONT).configure_view(stroke=None)

chart.save("out.html", embed_options={"renderer": "svg", "actions": False})
